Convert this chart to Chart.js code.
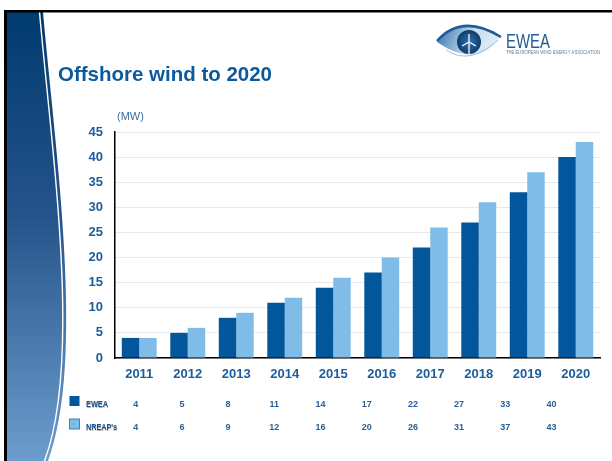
<!DOCTYPE html>
<html>
<head>
<meta charset="utf-8">
<script src="https://cdn.jsdelivr.net/npm/chart.js@4/dist/chart.umd.min.js"></script>
<style>
  html, body { margin: 0; padding: 0; background: #fff; }
  canvas { display: block; }
</style>
</head>
<body>
<canvas id="offshoreChart" width="612" height="461"></canvas>
<script>
const anos = ['2011','2012','2013','2014','2015','2016','2017','2018','2019','2020'];
const ewea = [4, 5, 8, 11, 14, 17, 22, 27, 33, 40];
const nreap = [4, 6, 9, 12, 16, 20, 26, 31, 37, 43];
const series = ['EWEA', "NREAP's"];

const corEscura = '#02569b';
const corClara = '#7fbde8';
const corTexto = '#1b5c9c';

// slide decoration: frame, curved side strip, title, logo, unit label
const fundoSlide = {
  id: 'fundoSlide',
  beforeDraw(chart) {
    const ctx = chart.ctx;
    ctx.save();
    ctx.fillStyle = '#fff';
    ctx.fillRect(0, 0, chart.width, chart.height);

    const grad = ctx.createLinearGradient(0, 12, 0, 461);
    grad.addColorStop(0, '#013b6f');
    grad.addColorStop(0.45, '#24538a');
    grad.addColorStop(1, '#6d9dcd');
    ctx.fillStyle = grad;
    ctx.beginPath();
    ctx.moveTo(6, 12);
    ctx.lineTo(43, 12);
    ctx.bezierCurveTo(55, 150, 86, 360, 48, 461);
    ctx.lineTo(6, 461);
    ctx.closePath();
    ctx.fill();

    ctx.strokeStyle = '#ffffff';
    ctx.lineWidth = 1.4;
    ctx.beginPath();
    ctx.moveTo(39.5, 12);
    ctx.bezierCurveTo(51.5, 150, 82.5, 360, 44.5, 461);
    ctx.stroke();

    ctx.fillStyle = '#000';
    ctx.fillRect(4, 10, 608, 2.5);
    ctx.fillRect(4, 10, 3, 451);

    ctx.fillStyle = '#0b5a9e';
    ctx.font = 'bold 21px "Liberation Sans", Arial, sans-serif';
    ctx.textBaseline = 'alphabetic';
    ctx.textAlign = 'left';
    ctx.fillText('Offshore wind to 2020', 58, 81, 214);

    ctx.fillStyle = '#3b6fa6';
    ctx.font = '11px "Liberation Sans", Arial, sans-serif';
    ctx.fillText('(MW)', 117, 120);

    // logo: eye with turbine iris
    const eg = ctx.createLinearGradient(438, 30, 500, 56);
    eg.addColorStop(0, '#3a76ad');
    eg.addColorStop(0.5, '#c3dbef');
    eg.addColorStop(1, '#eef5fb');
    ctx.fillStyle = eg;
    ctx.beginPath();
    ctx.moveTo(437, 42);
    ctx.quadraticCurveTo(462, 14, 500, 37);
    ctx.quadraticCurveTo(478, 70, 437, 42);
    ctx.fill();
    ctx.strokeStyle = '#1d5c95';
    ctx.lineWidth = 2.6;
    ctx.beginPath();
    ctx.moveTo(437, 41);
    ctx.quadraticCurveTo(462, 13, 501, 37);
    ctx.stroke();
    ctx.strokeStyle = '#9cc0e0';
    ctx.lineWidth = 1;
    ctx.beginPath();
    ctx.moveTo(446, 50);
    ctx.quadraticCurveTo(470, 66, 498, 40);
    ctx.stroke();
    const ig = ctx.createRadialGradient(469, 42, 2, 469, 42, 12);
    ig.addColorStop(0, '#2a6aa6');
    ig.addColorStop(1, '#0f3d6b');
    ctx.fillStyle = ig;
    ctx.beginPath();
    ctx.arc(469, 42, 12, 0, Math.PI * 2);
    ctx.fill();
    ctx.strokeStyle = '#fff';
    ctx.lineWidth = 1.3;
    for (let k = 0; k < 3; k++) {
      const a = -Math.PI / 2 + k * 2 * Math.PI / 3;
      ctx.beginPath();
      ctx.moveTo(469, 42);
      ctx.lineTo(469 + Math.cos(a) * 8, 42 + Math.sin(a) * 8);
      ctx.stroke();
    }
    ctx.beginPath();
    ctx.moveTo(469, 42);
    ctx.lineTo(469, 54);
    ctx.stroke();

    ctx.fillStyle = '#245c96';
    ctx.font = '20px "Liberation Sans", Arial, sans-serif';
    ctx.fillText('EWEA', 506, 48, 44);
    ctx.font = '5px "Liberation Sans", Arial, sans-serif';
    ctx.fillStyle = '#5a7fa6';
    ctx.fillText('THE EUROPEAN WIND ENERGY ASSOCIATION', 506, 54, 94);
    ctx.restore();
  }
};

// data table under the axis, one row per series
const tabelaDados = {
  id: 'tabelaDados',
  afterDraw(chart) {
    const ctx = chart.ctx;
    const linhas = [ewea, nreap];
    const cores = [corEscura, corClara];
    const ys = [405, 428];
    ctx.save();
    linhas.forEach((valores, r) => {
      const y = ys[r];
      ctx.fillStyle = cores[r];
      ctx.fillRect(69.5, y - 9, 10, 10);
      if (r === 1) {
        ctx.strokeStyle = '#3f83c0';
        ctx.lineWidth = 1;
        ctx.strokeRect(69.5, y - 9, 10, 10);
      }
      ctx.font = 'bold 9px "Liberation Sans", Arial, sans-serif';
      ctx.textBaseline = 'middle';
      ctx.textAlign = 'left';
      ctx.shadowColor = 'rgba(0,0,0,0.3)';
      ctx.shadowOffsetX = 0.5;
      ctx.shadowOffsetY = 0.5;
      ctx.fillStyle = '#1a4f8a';
      ctx.fillText(series[r], 86, y, r === 0 ? 22 : 31);
      ctx.shadowColor = 'transparent';
      ctx.textAlign = 'center';
      ctx.fillStyle = '#2a5f98';
      valores.forEach((v, i) => {
        ctx.fillText(String(v), 135.7 + i * 46.2, y);
      });
    });
    ctx.restore();
  }
};

new Chart(document.getElementById('offshoreChart'), {
  type: 'bar',
  data: {
    labels: anos,
    datasets: [
      { label: series[0], data: ewea, backgroundColor: corEscura },
      { label: series[1], data: nreap, backgroundColor: corClara }
    ]
  },
  options: {
    responsive: false,
    animation: false,
    layout: { padding: { left: 60, right: 12, top: 132, bottom: 0 } },
    datasets: {
      bar: { categoryPercentage: 0.72, barPercentage: 1.0 }
    },
    plugins: {
      legend: { display: false },
      title: { display: false },
      tooltip: { enabled: false }
    },
    scales: {
      y: {
        min: 0,
        max: 45,
        afterFit: s => { s.width = 55; },
        ticks: {
          stepSize: 5,
          padding: 12,
          color: corTexto,
          font: { family: '"Liberation Sans", Arial, sans-serif', size: 13, weight: 'bold' }
        },
        grid: { color: '#e6e8ef', drawTicks: false },
        border: { color: '#000', width: 1.5 }
      },
      x: {
        afterFit: s => { s.height = 103; },
        ticks: {
          padding: 9,
          color: corTexto,
          font: { family: '"Liberation Sans", Arial, sans-serif', size: 13, weight: 'bold' }
        },
        grid: { display: false, drawTicks: false },
        border: { color: '#000', width: 1.5 }
      }
    }
  },
  plugins: [fundoSlide, tabelaDados]
});
</script>
</body>
</html>
